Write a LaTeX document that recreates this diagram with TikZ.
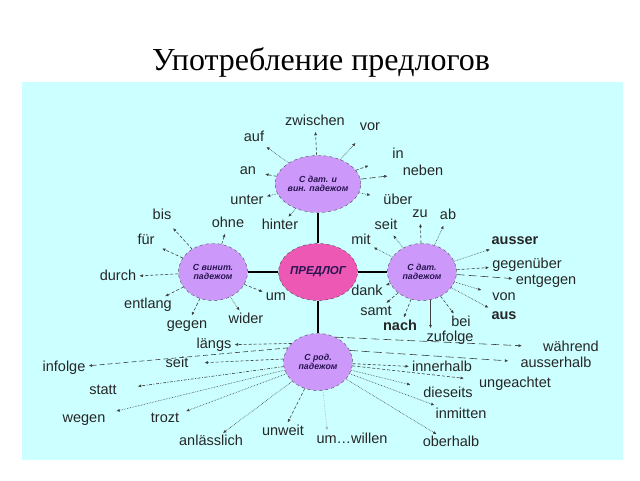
\documentclass[tikz,border=0pt]{standalone}
\usepackage{fontspec}
\setmainfont{Liberation Sans}
\newfontfamily\titlefont{Liberation Serif}
\usetikzlibrary{shapes.geometric, arrows.meta}
\definecolor{boxcyan}{RGB}{204,255,255}
\definecolor{caselilac}{RGB}{204,153,250}
\definecolor{predpink}{RGB}{236,88,180}
\definecolor{casetext}{RGB}{40,20,80}

\begin{document}
\begin{tikzpicture}[
    x=1pt, y=-1pt,
    word/.style={font=\fontsize{14.5}{15}\selectfont, text=black!85,
        inner sep=1pt, text height=10pt, text depth=3pt},
    bold word/.style={word, font=\fontsize{14.5}{15}\selectfont\bfseries},
    case oval/.style={ellipse, draw=black!70, dashed, fill=#1,
        minimum width=69pt, minimum height=57pt, inner sep=0pt,
        align=center, text=casetext,
        font=\fontsize{8.8}{9.5}\selectfont\bfseries\itshape},
    case oval/.default=caselilac,
    link/.style={line width=2.4pt, black},
    % Styles for the thin pointers
    ptr/.style={black!75, line width=0.6pt,
        -{Latex[length=3.5pt, width=3pt]}, shorten >=2pt},
    dot ptr/.style={ptr, densely dotted},
    dash ptr/.style={ptr, dash pattern=on 3pt off 2pt},
    long ptr/.style={ptr, dash pattern=on 8pt off 4pt}
]

    \useasboundingbox (0,0) rectangle (640,480);
    \fill[boxcyan] (22,82) rectangle (623,460);

    % Title
    \node[anchor=base, inner sep=0pt, font=\titlefont\fontsize{32}{36}\selectfont]
        (title) at (321,70) {Употребление предлогов};

    % Case ovals
    \node[case oval=predpink, font=\fontsize{11.5}{12}\selectfont\bfseries\itshape]
        (pred) at (318,272) {ПРЕДЛОГ};
    \node[case oval] (case_da) at (318,184) {С дат. и\\вин. падежом};
    \node[case oval] (case_a)  at (213,272) {С винит.\\падежом};
    \node[case oval] (case_d)  at (422,272) {С дат.\\падежом};
    \node[case oval] (case_g)  at (318,362) {С род.\\падежом};

    \draw[link] (case_da) -- (pred);
    \draw[link] (case_a) -- (pred);
    \draw[link] (case_d) -- (pred);
    \draw[link] (case_g) -- (pred);

    % Dativ und Akkusativ
    \node[word] (l_zwischen) at (315,122) {zwischen};
    \node[word] (l_vor)      at (370,127) {vor};
    \node[word] (l_auf)      at (254,138) {auf};
    \node[word] (l_in)       at (398,155) {in};
    \node[word] (l_an)       at (248,171) {an};
    \node[word] (l_neben)    at (423,172) {neben};
    \node[word] (l_unter)    at (247,201) {unter};
    \node[word] (l_ueber)    at (398,201) {über};
    \node[word] (l_hinter)   at (280,226) {hinter};

    \draw[dash ptr] (case_da) -- (l_zwischen);
    \draw[dot ptr, shorten >=11pt] (case_da) -- (l_vor);
    \draw[dot ptr] (case_da) -- (l_auf);
    \draw[dash ptr, shorten >=24pt] (case_da) -- (l_in);
    \draw[dash ptr, shorten >=8pt] (case_da) -- (l_an);
    \draw[ptr, dash pattern=on 6pt off 3pt, shorten >=14pt] (case_da) -- (l_neben);
    \draw[dot ptr] (case_da) -- (l_unter);
    \draw[dot ptr, shorten >=12pt] (case_da) -- (l_ueber);
    \draw[dot ptr] (case_da) -- (l_hinter);

    % Dativ
    \node[word]      (l_zu)       at (420,214) {zu};
    \node[word]      (l_ab)       at (448,216) {ab};
    \node[word]      (l_seit_d)   at (386,226) {seit};
    \node[word]      (l_mit)      at (361,241) {mit};
    \node[bold word] (l_ausser)   at (515,241) {ausser};
    \node[word]      (l_gegenueb) at (527,265) {gegenüber};
    \node[word]      (l_entgegen) at (546,281) {entgegen};
    \node[word]      (l_von)      at (504,297) {von};
    \node[bold word] (l_aus)      at (504,316) {aus};
    \node[word]      (l_dank)     at (367,292) {dank};
    \node[word]      (l_samt)     at (376,312) {samt};
    \node[bold word] (l_nach)     at (400,327) {nach};
    \node[word]      (l_bei)      at (461,323) {bei};
    \node[word]      (l_zufolge)  at (450,338) {zufolge};

    \draw[dash ptr] (case_d) -- (l_zu);
    \draw[dot ptr] (case_d) -- (l_ab);
    \draw[dot ptr] (case_d) -- (l_seit_d);
    \draw[dot ptr] (case_d) -- (l_mit);
    \draw[dot ptr] (case_d) -- (l_ausser);
    \draw[dash ptr] (case_d) -- (l_gegenueb);
    \draw[long ptr] (case_d) -- (l_entgegen);
    \draw[dot ptr, shorten >=10pt] (case_d) -- (l_von);
    \draw[dot ptr] (case_d) -- (l_aus);
    \draw[dot ptr] (case_d) -- (l_dank);
    \draw[dash ptr] (case_d) -- (l_samt);
    \draw[dash ptr] (case_d) -- (l_nach);
    \draw[dash ptr] (case_d) -- (l_bei);
    \draw[ptr] (case_d.-73) -- (case_d.-73 |- l_zufolge.north);

    % Akkusativ
    \node[word] (l_bis)     at (162,216) {bis};
    \node[word] (l_ohne)    at (228,224) {ohne};
    \node[word] (l_fuer)    at (146,241) {für};
    \node[word] (l_durch)   at (118,277) {durch};
    \node[word] (l_um)      at (276,297) {um};
    \node[word] (l_entlang) at (148,305) {entlang};
    \node[word] (l_gegen)   at (187,325) {gegen};
    \node[word] (l_wider)   at (246,320) {wider};

    \draw[dash ptr, shorten >=6pt] (case_a) -- (l_bis);
    \draw[dash ptr] (case_a) -- (l_ohne);
    \draw[dash ptr, shorten >=7pt] (case_a) -- (l_fuer);
    \draw[dash ptr] (case_a) -- (l_durch);
    \draw[dash ptr] (case_a) -- (l_um);
    \draw[dash ptr] (case_a) -- (l_entlang);
    \draw[dash ptr] (case_a) -- (l_gegen);
    \draw[dot ptr] (case_a) -- (l_wider);

    % Genitiv
    \node[word] (l_laengs)     at (214,345) {längs};
    \node[word] (l_infolge)    at (64,368)  {infolge};
    \node[word] (l_seit_g)     at (177,364) {seit};
    \node[word] (l_statt)      at (103,391) {statt};
    \node[word] (l_wegen)      at (84,419)  {wegen};
    \node[word] (l_trozt)      at (165,419) {trozt};
    \node[word] (l_anlaess)    at (211,442) {anlässlich};
    \node[word] (l_unweit)     at (283,432) {unweit};
    \node[word] (l_umwillen)   at (352,440) {um…willen};
    \node[word] (l_oberhalb)   at (451,443) {oberhalb};
    \node[word] (l_inmitten)   at (461,415) {inmitten};
    \node[word] (l_dieseits)   at (448,394) {dieseits};
    \node[word] (l_ungeacht)   at (515,384) {ungeachtet};
    \node[word] (l_innerhalb)  at (442,368) {innerhalb};
    \node[word] (l_ausserhalb) at (556,364) {ausserhalb};
    \node[word] (l_waehrend)   at (571,348) {während};

    \draw[dash ptr] (case_g.145) -- (l_laengs);
    \draw[ptr, dash pattern=on 5pt off 3pt] (case_g.155) -- (l_infolge);
    \draw[dash ptr, shorten >=15pt] (case_g.175) -- (l_seit_g);
    \draw[ptr, dash pattern=on 3pt off 1.5pt on 1pt off 1.5pt, shorten >=20pt] (case_g) -- (l_statt);
    \draw[dot ptr, shorten >=10pt] (case_g) -- (l_wegen);
    \draw[dot ptr, shorten >=6pt] (case_g) -- (l_trozt);
    \draw[dot ptr] (case_g) -- (l_anlaess);
    \draw[dash ptr] (case_g) -- (l_unweit);
    \draw[dot ptr, black!30] (case_g.-80) -- ([xshift=12pt]l_umwillen.north west);
    \draw[dot ptr] (case_g) -- (l_oberhalb);
    \draw[dot ptr, shorten >=6pt] (case_g) -- (l_inmitten);
    \draw[dot ptr, shorten >=12pt] (case_g) -- (l_dieseits);
    \draw[dash ptr, shorten >=14pt] (case_g) -- (l_ungeacht);
    \draw[dash ptr] (case_g) -- (l_innerhalb);
    \draw[long ptr, shorten >=11pt] (case_g.20) -- (l_ausserhalb);
    \draw[long ptr, shorten >=20pt] (case_g.55) -- (l_waehrend);

\end{tikzpicture}
\end{document}
